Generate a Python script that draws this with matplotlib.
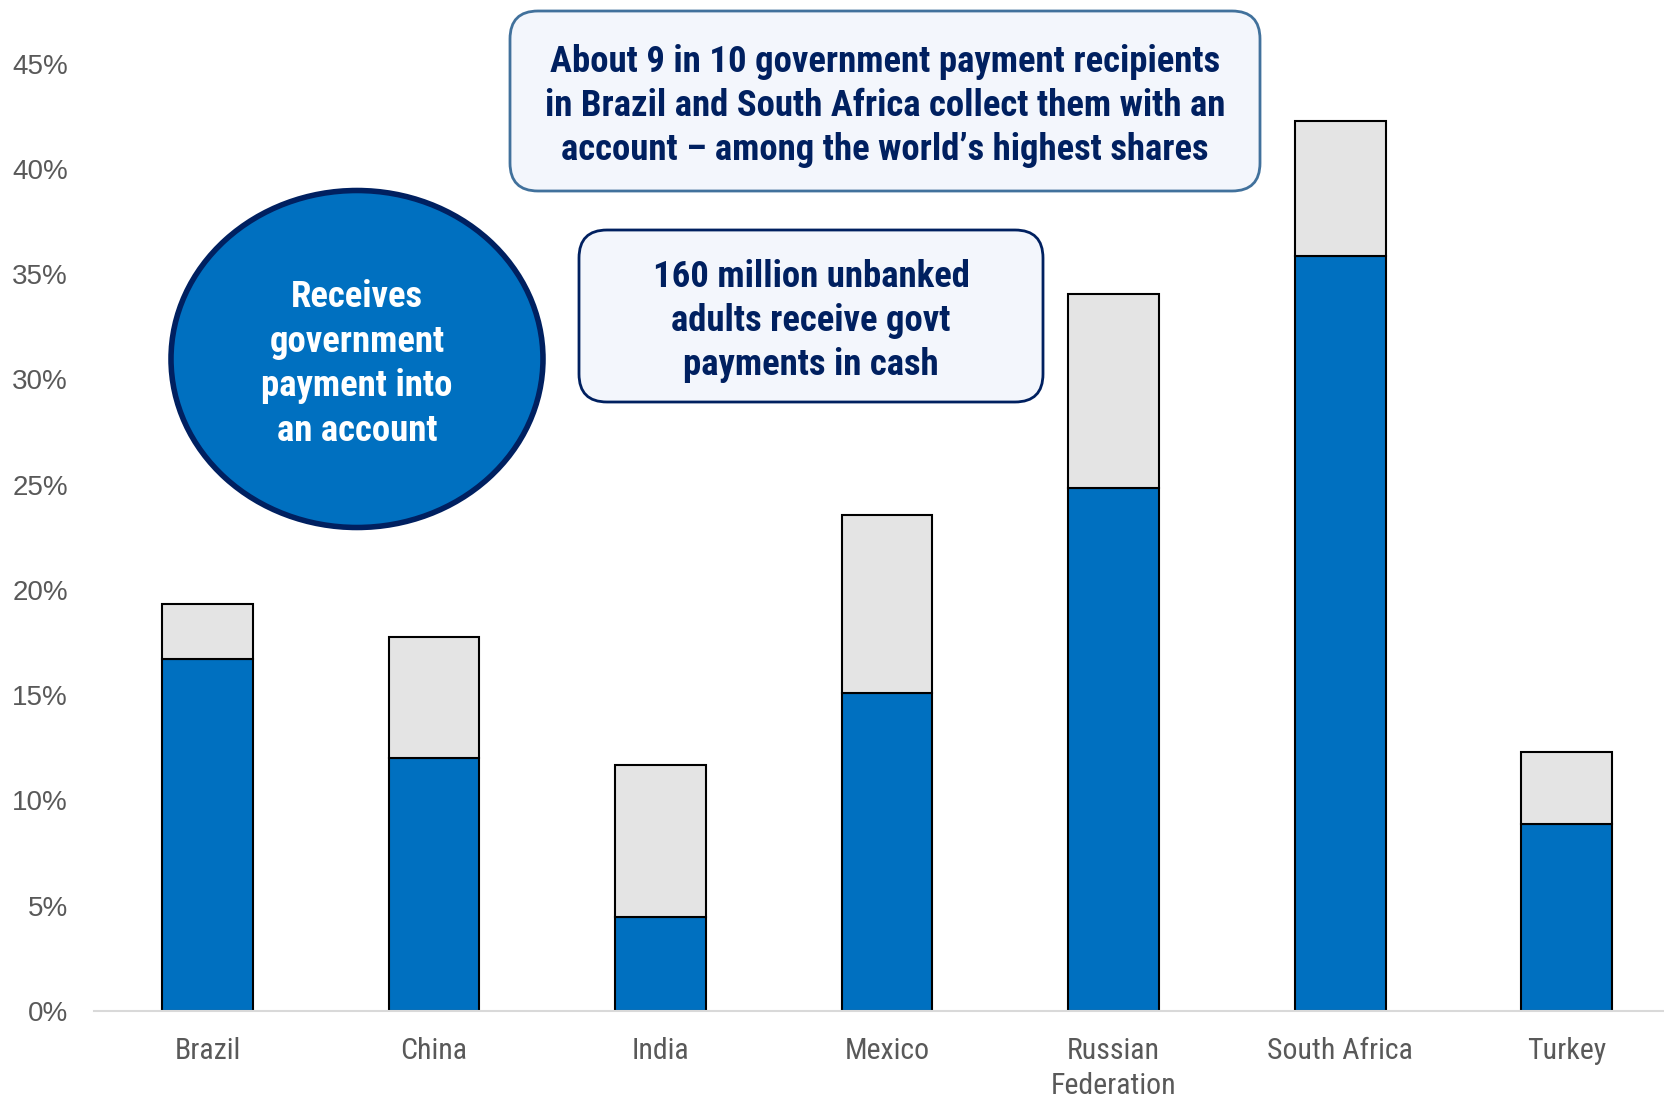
import matplotlib
matplotlib.use("Agg")
import matplotlib.pyplot as plt
from matplotlib import font_manager
from matplotlib.patches import FancyBboxPatch, Ellipse

# Share of adults receiving government payments (%)
countries = ["Brazil", "China", "India", "Mexico", "Russian\nFederation", "South Africa", "Turkey"]
into_account = [16.7, 12.0, 4.45, 15.1, 24.85, 35.85, 8.9]
in_cash = [2.65, 5.75, 7.25, 8.45, 9.2, 6.45, 3.4]
y_ticks = [0, 5, 10, 15, 20, 25, 30, 35, 40, 45]


def pick_font(names):
    for n in names:
        try:
            font_manager.findfont(font_manager.FontProperties(family=n), fallback_to_default=False)
            return n
        except Exception:
            continue
    return "DejaVu Sans"


narrow = pick_font(["Liberation Sans Narrow", "Arial Narrow", "Roboto Condensed", "Liberation Sans"])
regular = pick_font(["Liberation Sans", "Arial"])
is_narrow = "Narrow" in narrow or "Condensed" in narrow
k = 1.0 if is_narrow else 0.84

BLUE = "#0070C0"
GREY = "#E4E4E4"
NAVY = "#002060"

W, H = 1665, 1100
fig = plt.figure(figsize=(W / 100, H / 100), dpi=100)

# main axes in pixel terms
x0, x1 = 94.3, 1680
y0, y1 = 1011, 63.7
ax = fig.add_axes([x0 / W, 1 - y0 / H, (x1 - x0) / W, (y0 - y1) / H])

xs = range(len(countries))
ax.bar(xs, into_account, width=0.4, color=BLUE, edgecolor="black", linewidth=1.5, zorder=3)
ax.bar(xs, in_cash, width=0.4, bottom=into_account, color=GREY, edgecolor="black",
       linewidth=1.5, zorder=3)

ax.set_xlim(-0.5, 6.5)
ax.set_ylim(0, 45)
ax.set_yticks(y_ticks)
ax.set_yticklabels([f"{t}%" for t in y_ticks], fontsize=20, color="#595959", family=regular)
ax.set_xticks(list(xs))
ax.set_xticklabels(countries, fontsize=21.5 * k, color="#595959", family=narrow, linespacing=1.3)
ax.tick_params(axis="y", length=0, pad=19)
ax.tick_params(axis="x", length=0, pad=19)
for s in ["top", "right", "left"]:
    ax.spines[s].set_visible(False)
ax.spines["bottom"].set_color("#D9D9D9")
ax.spines["bottom"].set_linewidth(1.5)
ax.spines["bottom"].set_zorder(4)

# overlay in pixel coordinates for callouts
ov = fig.add_axes([0, 0, 1, 1], facecolor="none")
ov.set_xlim(0, W)
ov.set_ylim(H, 0)
ov.axis("off")

box1 = FancyBboxPatch((510, 11), 750, 180, boxstyle="round,pad=0,rounding_size=28",
                      facecolor="#F3F6FC", edgecolor="#41719C", linewidth=2)
ov.add_patch(box1)
ov.text(885, 106, "About 9 in 10 government payment recipients\n"
        "in Brazil and South Africa collect them with an\n"
        "account \u2013 among the world\u2019s highest shares",
        ha="center", va="center", fontsize=26.5 * k, fontweight="bold", color=NAVY,
        family=narrow, linespacing=1.29)

box2 = FancyBboxPatch((579, 230), 464, 172, boxstyle="round,pad=0,rounding_size=28",
                      facecolor="#F3F6FC", edgecolor=NAVY, linewidth=2)
ov.add_patch(box2)
ov.text(811, 321, "160 million unbanked\nadults receive govt\npayments in cash",
        ha="center", va="center", fontsize=26.5 * k, fontweight="bold", color=NAVY,
        family=narrow, linespacing=1.29)

circ = Ellipse((357, 359), 372, 337, facecolor=BLUE, edgecolor=NAVY, linewidth=4)
ov.add_patch(circ)
ov.text(357, 364, "Receives\ngovernment\npayment into\nan account",
        ha="center", va="center", fontsize=26.5 * k, fontweight="bold", color="white",
        family=narrow, linespacing=1.31)

fig.savefig("out.png", dpi=100)
